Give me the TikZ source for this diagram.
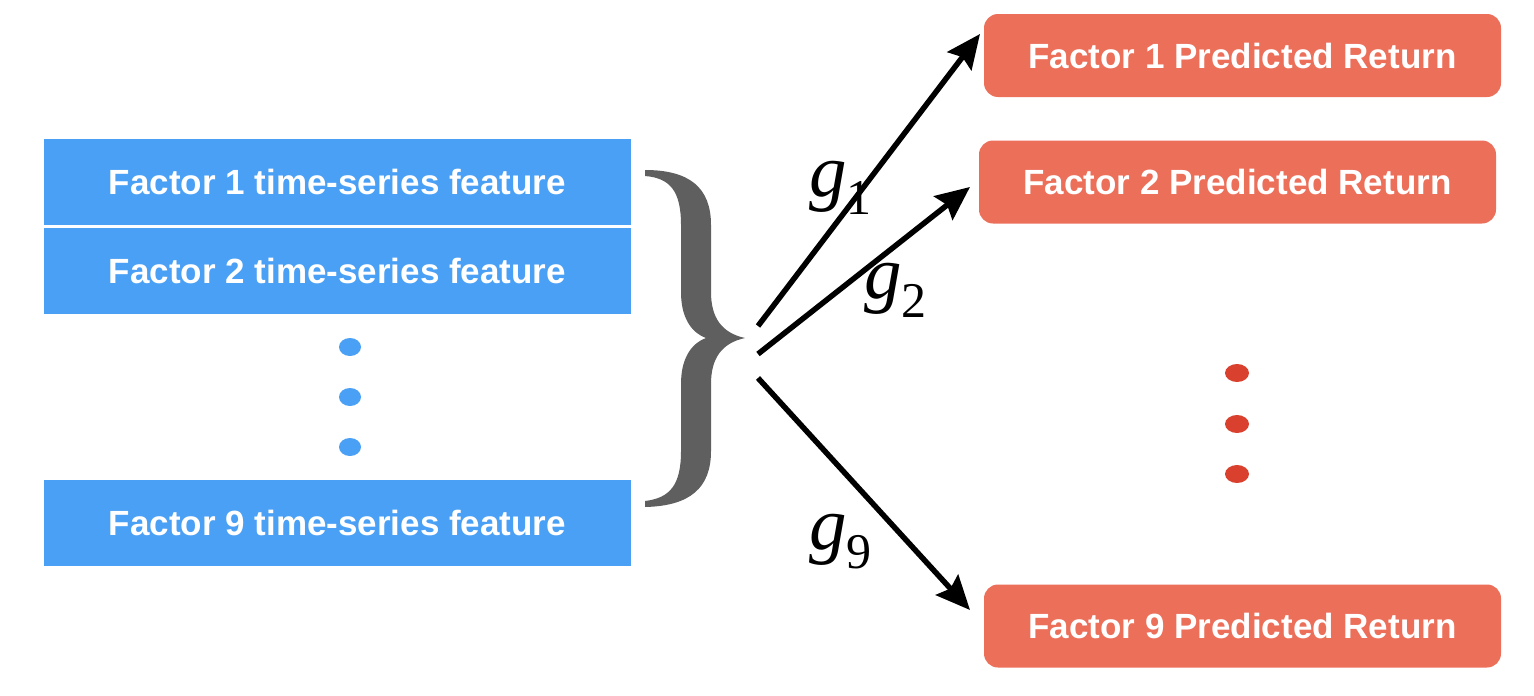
\documentclass[tikz,border=0pt]{standalone}
\usepackage{fontspec}
\setmainfont{Liberation Sans}
\newfontfamily\tms{Liberation Serif}
\usetikzlibrary{arrows.meta,shapes.geometric}
\definecolor{fblue}{RGB}{74,160,245}
\definecolor{fred}{RGB}{236,111,90}
\definecolor{dred}{RGB}{217,65,46}
\definecolor{bgray}{RGB}{95,95,95}
\begin{document}
\begin{tikzpicture}[x=1pt,y=-1pt,
  feat/.style={fill=fblue, minimum width=587pt, minimum height=86pt, inner sep=0pt,
    text=white, font=\fontsize{35}{42}\selectfont\bfseries},
  pred/.style={fill=fred, rounded corners=14pt, minimum width=517pt, minimum height=83pt,
    inner sep=0pt, text=white, font=\fontsize{35}{42}\selectfont\bfseries},
  bdot/.style={ellipse, fill=fblue, minimum width=22pt, minimum height=18pt, inner sep=0pt},
  rdot/.style={ellipse, fill=dred, minimum width=24pt, minimum height=18pt, inner sep=0pt},
  arr/.style={line width=5.5pt, -{Stealth[length=34pt,width=30pt,inset=5pt]}},
  glab/.style={inner sep=0pt, anchor=base west, font=\tms\fontsize{75}{75}\selectfont\itshape}]
\useasboundingbox (0,0) rectangle (1534,696);
% input feature boxes
\node[feat] (f1) at (337.5,182) {Factor 1 time-series feature};
\node[feat] (f2) at (337.5,271) {Factor 2 time-series feature};
\node[feat] (f9) at (337.5,523) {Factor 9 time-series feature};
\node[bdot] (bd1) at (350,347) {};
\node[bdot] (bd2) at (350,397) {};
\node[bdot] (bd3) at (350,447) {};
% brace
\fill[bgray] (645,170) .. controls (690,170) and (711,188) .. (711,225) -- (711,292)
  .. controls (711,318) and (722,333) .. (745,338)
  .. controls (722,343) and (711,358) .. (711,384) -- (711,451)
  .. controls (711,488) and (690,506) .. (645,507) -- (645,501)
  .. controls (670,498) and (681,485) .. (681,451) -- (681,384)
  .. controls (681,360) and (690,344) .. (706,338)
  .. controls (690,332) and (681,316) .. (681,292) -- (681,225)
  .. controls (681,191) and (670,178) .. (645,176) -- cycle;
% output boxes
\node[pred] (p1) at (1242.5,55.5) {Factor 1 Predicted Return};
\node[pred] (p2) at (1237.5,182) {Factor 2 Predicted Return};
\node[pred] (p9) at (1242.5,626) {Factor 9 Predicted Return};
\node[rdot] (rd1) at (1237,373) {};
\node[rdot] (rd2) at (1237,424) {};
\node[rdot] (rd3) at (1237,474) {};
% arrows
\coordinate (s1) at (758,326);
\coordinate (s2) at (758,354);
\coordinate (s9) at (758,378);
\coordinate (e1) at (980,34);
\coordinate (e2) at (970,187);
\coordinate (e9) at (970,610);
\draw[arr] (s1) -- (e1);
\draw[arr] (s2) -- (e2);
\draw[arr] (s9) -- (e9);
% labels
\node[glab] (g1) at (809,196) {g\raisebox{-18pt}{\tms\fontsize{50}{50}\selectfont\upshape 1}};
\node[glab] (g2) at (864,298) {g\raisebox{-19pt}{\tms\fontsize{50}{50}\selectfont\upshape 2}};
\node[glab] (g9) at (809,549) {g\raisebox{-19pt}{\tms\fontsize{50}{50}\selectfont\upshape 9}};
\end{tikzpicture}
\end{document}
